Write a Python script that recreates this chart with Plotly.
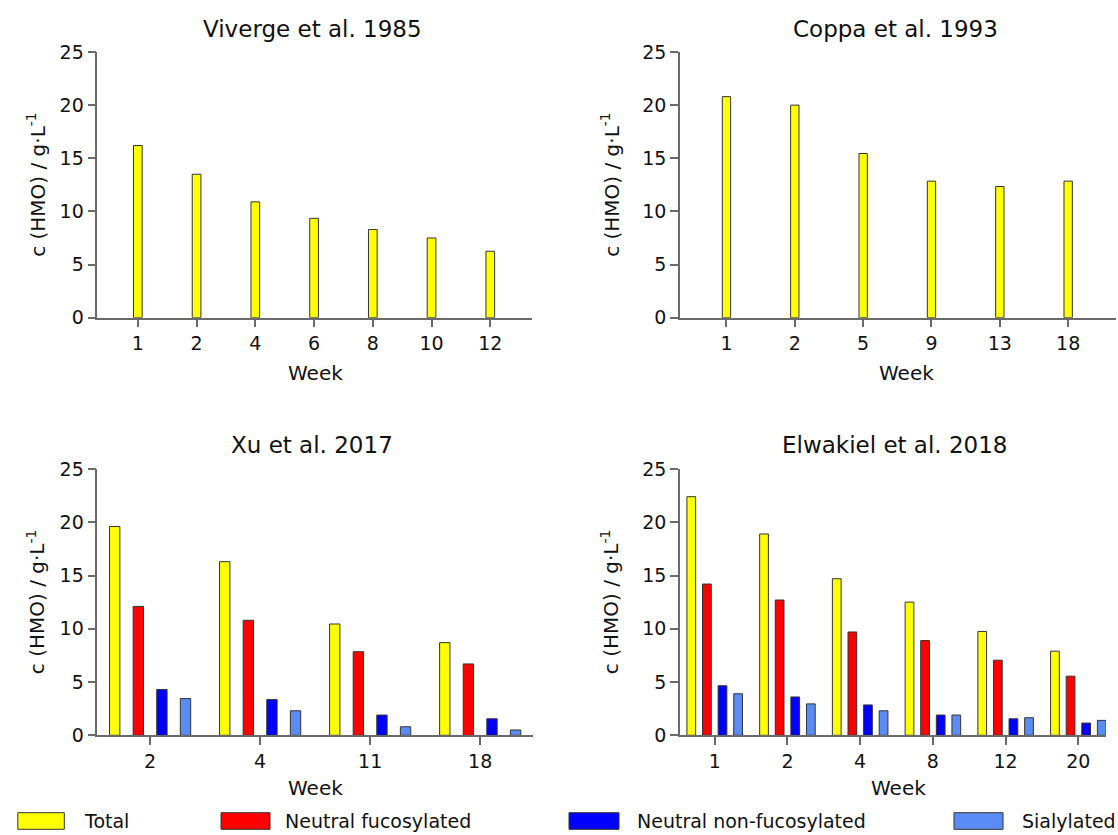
import plotly.graph_objects as go

# ---------------- data ----------------
viverge_weeks = ["1", "2", "4", "6", "8", "10", "12"]
viverge_total = [16.2, 13.5, 10.9, 9.35, 8.3, 7.5, 6.25]

coppa_weeks = ["1", "2", "5", "9", "13", "18"]
coppa_total = [20.8, 20.0, 15.45, 12.85, 12.35, 12.85]

xu_weeks = ["2", "4", "11", "18"]
xu_total = [19.6, 16.3, 10.45, 8.7]
xu_fuc = [12.1, 10.8, 7.85, 6.7]
xu_nonfuc = [4.3, 3.35, 1.9, 1.55]
xu_sia = [3.45, 2.3, 0.8, 0.5]

elw_weeks = ["1", "2", "4", "8", "12", "20"]
elw_total = [22.4, 18.9, 14.7, 12.5, 9.75, 7.9]
elw_fuc = [14.2, 12.7, 9.7, 8.9, 7.05, 5.55]
elw_nonfuc = [4.65, 3.6, 2.85, 1.9, 1.55, 1.15]
elw_sia = [3.9, 2.95, 2.3, 1.9, 1.65, 1.4]

series_names = ["Total", "Neutral fucosylated", "Neutral non-fucosylated", "Sialylated"]
series_colors = ["#FFFF00", "#FF0000", "#0000FF", "#5B8CF5"]
panel_titles = ["Viverge et al. 1985", "Coppa et al. 1993", "Xu et al. 2017", "Elwakiel et al. 2018"]
y_ticks = [0, 5, 10, 15, 20, 25]

# ---------------- figure ----------------
W, H = 1118, 835
FONT = "DejaVu Sans"
TXT = "#111111"
AX = "#6a6a6a"
OUTLINE = dict(color="#333333", width=1)


def px_x(p):
    return p / W


def px_y(p):
    return 1 - p / H


fig = go.Figure()

# top-left
fig.add_trace(go.Bar(x=viverge_weeks, y=viverge_total, marker=dict(color=series_colors[0], line=OUTLINE),
                     width=0.148, xaxis="x", yaxis="y", showlegend=False))
# top-right
fig.add_trace(go.Bar(x=coppa_weeks, y=coppa_total, marker=dict(color=series_colors[0], line=OUTLINE),
                     width=0.122, xaxis="x2", yaxis="y2", showlegend=False))
# bottom-left
for vals, col, name in zip([xu_total, xu_fuc, xu_nonfuc, xu_sia], series_colors, series_names):
    fig.add_trace(go.Bar(x=xu_weeks, y=vals, name=name, marker=dict(color=col, line=OUTLINE),
                         width=0.094, xaxis="x3", yaxis="y3", showlegend=False))
# bottom-right
for vals, col, name in zip([elw_total, elw_fuc, elw_nonfuc, elw_sia], series_colors, series_names):
    fig.add_trace(go.Bar(x=elw_weeks, y=vals, name=name, marker=dict(color=col, line=OUTLINE),
                         width=0.12, xaxis="x4", yaxis="y4", showlegend=False))

panels = [
    # (x domain px, y domain px, x range, title x px, title y px, week x px, week y px, ytitle x px)
    ((97.3, 532), (52, 317.7), [-0.69, 6.71], 312, 29, 315, 373, 36),
    ((680, 1116), (52, 317.7), [-0.68, 5.70], 895, 29, 906, 373, 610),
    ((97.3, 533), (469, 735.3), [-0.48, 3.48], 312, 445, 315, 788, 36),
    ((680, 1106), (469, 735.3), [-0.477, 5.38], 895, 445, 898, 788, 610),
]

annotations = []
layout_axes = {}
for i, (xd, yd, xr, tx, ty, wx, wy, yx) in enumerate(panels):
    sfx = "" if i == 0 else str(i + 1)
    layout_axes["xaxis" + sfx] = dict(
        domain=[px_x(xd[0]), px_x(xd[1])], anchor="y" + sfx, type="category", range=xr,
        showline=True, linecolor=AX, linewidth=1.5, ticks="outside", ticklen=8, tickwidth=1.5,
        tickcolor=AX, showgrid=False, zeroline=False, automargin=False, fixedrange=True,
        tickfont=dict(family=FONT, size=19, color=TXT), ticklabelstandoff=0,
    )
    layout_axes["yaxis" + sfx] = dict(
        domain=[px_y(yd[1]), px_y(yd[0])], anchor="x" + sfx, range=[0, 25], tickvals=y_ticks,
        showline=True, linecolor=AX, linewidth=1.5, ticks="outside", ticklen=8, tickwidth=1.5,
        tickcolor=AX, showgrid=False, zeroline=False, automargin=False, fixedrange=True,
        tickfont=dict(family=FONT, size=19, color=TXT), ticklabelstandoff=0,
    )
    annotations.append(dict(text=panel_titles[i], x=px_x(tx), y=px_y(ty), xref="paper", yref="paper",
                            showarrow=False, xanchor="center", yanchor="middle",
                            font=dict(family=FONT, size=23, color=TXT)))
    annotations.append(dict(text="Week", x=px_x(wx), y=px_y(wy), xref="paper", yref="paper",
                            showarrow=False, xanchor="center", yanchor="middle",
                            font=dict(family=FONT, size=20, color=TXT)))
    annotations.append(dict(text="c (HMO) / g·L<sup>-1</sup>", x=px_x(yx), y=px_y((yd[0] + yd[1]) / 2),
                            xref="paper", yref="paper", showarrow=False, textangle=-90,
                            xanchor="center", yanchor="middle",
                            font=dict(family=FONT, size=20, color=TXT)))

# legend drawn as boxes + labels along the bottom
legend_boxes = [(17.8, 64.3), (221, 270), (569, 619), (954, 1003)]
legend_text_x = [82, 283, 635, 1020]
shapes = []
for (x0, x1), tx, name, col in zip(legend_boxes, legend_text_x, series_names, series_colors):
    shapes.append(dict(type="rect", xref="paper", yref="paper", x0=px_x(x0), x1=px_x(x1),
                       y0=px_y(829.3), y1=px_y(812.7), fillcolor=col,
                       line=dict(color="#333333", width=1)))
    annotations.append(dict(text=name, x=px_x(tx), y=px_y(821), xref="paper", yref="paper",
                            showarrow=False, xanchor="left", yanchor="middle",
                            font=dict(family=FONT, size=19, color=TXT)))

fig.update_layout(
    width=W, height=H, autosize=False,
    margin=dict(l=0, r=0, t=0, b=0, pad=0),
    paper_bgcolor="white", plot_bgcolor="white",
    barmode="group", bargap=0.142, bargroupgap=0,
    showlegend=False,
    annotations=annotations, shapes=shapes,
    font=dict(family=FONT, color=TXT),
    **layout_axes,
)

fig.write_html(
    "out.html",
    config={"displayModeBar": False},
    post_script="document.body.style.margin='0px';document.body.style.overflow='hidden';",
)
